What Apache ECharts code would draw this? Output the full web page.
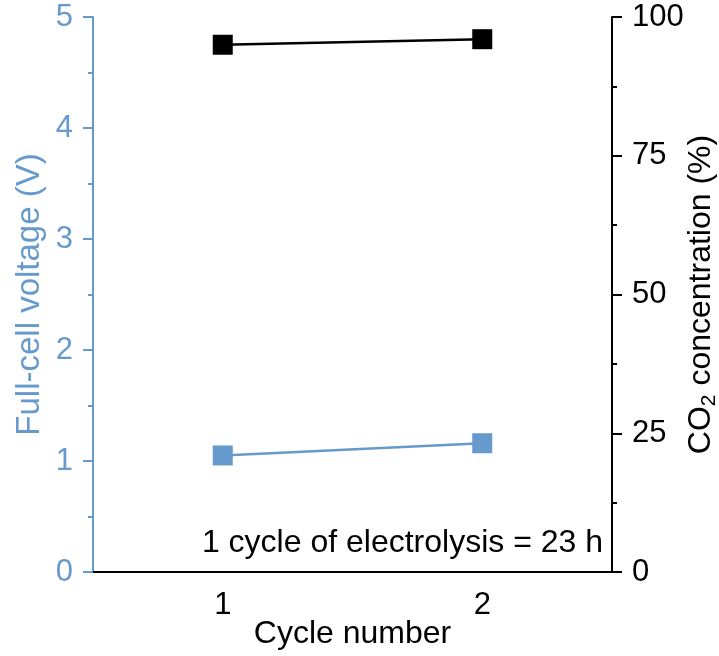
<!DOCTYPE html>
<html>
<head>
<meta charset="utf-8">
<script src="https://cdn.jsdelivr.net/npm/echarts@6/dist/echarts.min.js"></script>
<style>
  html, body { margin: 0; padding: 0; background: #fff; }
  #chart { width: 719px; height: 656px; }
</style>
</head>
<body>
<div id="chart"></div>
<script>
// data
const cycles = ['1', '2']
const voltage = [1.05, 1.16]
const co2 = [95, 96]

const blue = '#6699cc'
const font = 'Liberation Sans, Arial, sans-serif'

const chart = echarts.init(document.getElementById('chart'))

const option = {
  animation: false,
  grid: { left: 93, right: 107, top: 17, bottom: 84, containLabel: false, outerBoundsMode: 'none' },
  xAxis: [
    {
      type: 'category',
      data: cycles,
      boundaryGap: true,
      name: 'Cycle number',
      nameLocation: 'middle',
      nameGap: 46,
      nameMoveOverlap: false,
      nameTextStyle: { color: '#000', fontSize: 32, fontFamily: font },
      axisLine: { lineStyle: { color: '#000', width: 2 } },
      axisTick: { alignWithLabel: true, inside: false, length: 10, lineStyle: { color: '#000', width: 2 } },
      axisLabel: { color: '#000', fontSize: 31, fontFamily: font, margin: 18 },
      splitLine: { show: false }
    },
    {
      type: 'category',
      data: cycles,
      position: 'top',
      axisLine: { lineStyle: { color: '#000', width: 2 } },
      axisTick: { show: false },
      axisLabel: { show: false },
      splitLine: { show: false }
    }
  ],
  yAxis: [
    {
      type: 'value',
      min: 0,
      max: 5,
      interval: 1,
      position: 'left',
      name: 'Full-cell voltage (V)',
      nameLocation: 'middle',
      nameRotate: 90,
      nameGap: 47,
      nameMoveOverlap: false,
      nameTextStyle: { color: blue, fontSize: 33, fontFamily: font },
      axisLine: { show: true, lineStyle: { color: blue, width: 2 } },
      axisTick: { show: true, length: 10, lineStyle: { color: blue, width: 2 } },
      minorTick: { show: true, splitNumber: 2, length: 5, lineStyle: { color: blue, width: 2 } },
      axisLabel: { color: blue, fontSize: 31, fontFamily: font, margin: 20 },
      splitLine: { show: false }
    },
    {
      type: 'value',
      min: 0,
      max: 100,
      interval: 25,
      position: 'right',
      name: '{a|CO}{s|2}{a| concentration (%)}',
      nameLocation: 'middle',
      nameRotate: 90,
      nameGap: 71,
      nameMoveOverlap: false,
      nameTextStyle: {
        color: '#000',
        fontFamily: font,
        rich: {
          a: { fontSize: 32, fontFamily: font, color: '#000' },
          s: { fontSize: 21, fontFamily: font, color: '#000', verticalAlign: 'bottom', padding: [16, 0, 0, 0] }
        }
      },
      axisLine: { show: true, lineStyle: { color: '#000', width: 2 } },
      axisTick: { show: true, length: 10, lineStyle: { color: '#000', width: 2 } },
      minorTick: { show: true, splitNumber: 2, length: 5, lineStyle: { color: '#000', width: 2 } },
      axisLabel: { color: '#000', fontSize: 31, fontFamily: font, margin: 20 },
      splitLine: { show: false }
    }
  ],
  graphic: [
    {
      type: 'text',
      right: 116,
      bottom: 97,
      style: {
        text: '1 cycle of electrolysis = 23 h',
        fill: '#000',
        font: '32px ' + font
      }
    }
  ],
  series: [
    {
      name: 'Full-cell voltage',
      type: 'line',
      xAxisIndex: 0,
      yAxisIndex: 0,
      data: voltage,
      symbol: 'rect',
      symbolSize: 20,
      lineStyle: { color: blue, width: 2.5 },
      itemStyle: { color: blue }
    },
    {
      name: 'CO2 concentration',
      type: 'line',
      xAxisIndex: 0,
      yAxisIndex: 1,
      data: co2,
      symbol: 'rect',
      symbolSize: 20,
      lineStyle: { color: '#000', width: 2.5 },
      itemStyle: { color: '#000' }
    }
  ]
}

chart.setOption(option)
</script>
</body>
</html>
